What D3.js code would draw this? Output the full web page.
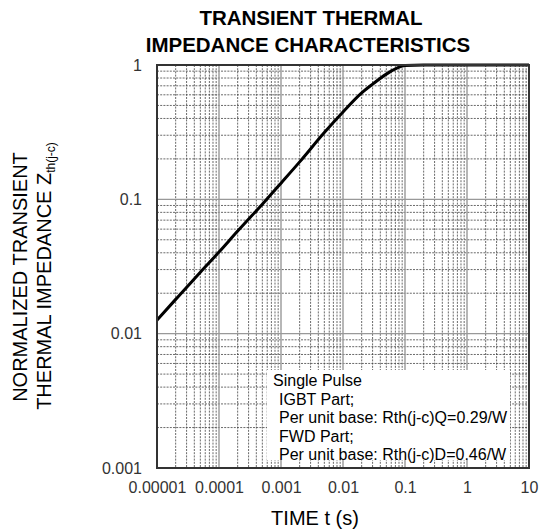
<!DOCTYPE html>
<html>
<head>
<meta charset="utf-8">
<script src="https://cdn.jsdelivr.net/npm/d3@7"></script>
<style>
  body { margin: 0; background: #fff; }
  svg { display: block; font-family: "Liberation Sans", Arial, sans-serif; }
</style>
</head>
<body>
<script>
// canvas and plot box
var w = 542, h = 529;
var plotLeft = 157, plotRight = 529, plotTop = 65, plotBottom = 468;

// curve: time (s) vs normalized Zth(j-c)
var timeS = [1e-5, 2e-5, 5e-5, 1e-4, 2e-4, 5e-4, 1e-3, 2e-3, 5e-3, 1e-2, 2e-2, 3e-2, 5e-2, 7e-2, 0.1, 0.2, 1, 10];
var zth   = [0.0126, 0.018, 0.0287, 0.0405, 0.058, 0.092, 0.132, 0.19, 0.314, 0.447, 0.62, 0.72, 0.855, 0.935, 0.99, 1, 1, 1];

// tick labels
var xTicks = [1e-5, 1e-4, 1e-3, 1e-2, 0.1, 1, 10];
var xTickLabels = ["0.00001", "0.0001", "0.001", "0.01", "0.1", "1", "10"];
var yTicks = [0.001, 0.01, 0.1, 1];
var yTickLabels = ["0.001", "0.01", "0.1", "1"];

// legend text
var legendLines = ["Single Pulse", "IGBT Part;", "Per unit base: Rth(j-c)Q=0.29/W", "FWD Part;", "Per unit base: Rth(j-c)D=0.46/W"];

var x = d3.scaleLog().domain([1e-5, 10]).range([plotLeft, plotRight]);
var y = d3.scaleLog().domain([0.001, 1]).range([plotBottom, plotTop]);

var svg = d3.select("body").append("svg")
    .attr("width", w)
    .attr("height", h);

// minor / major grid values (1..9 per decade)
function decadeLines(lo, hi) {
  var major = [], minor = [];
  for (var e = lo; e <= hi; e++) {
    major.push(Math.pow(10, e));
    if (e < hi) for (var k = 2; k <= 9; k++) minor.push(k * Math.pow(10, e));
  }
  return {major: major, minor: minor};
}
var gx = decadeLines(-5, 1);
var gy = decadeLines(-3, 0);

var grid = svg.append("g");
grid.selectAll("line.vmin").data(gx.minor).enter().append("line")
    .attr("x1", d => x(d)).attr("x2", d => x(d))
    .attr("y1", plotTop).attr("y2", plotBottom)
    .attr("stroke", "#444").attr("stroke-width", 0.8).attr("stroke-dasharray", "2,1.2");
grid.selectAll("line.hmin").data(gy.minor).enter().append("line")
    .attr("y1", d => y(d)).attr("y2", d => y(d))
    .attr("x1", plotLeft).attr("x2", plotRight)
    .attr("stroke", "#444").attr("stroke-width", 0.8).attr("stroke-dasharray", "2,1.2");
grid.selectAll("line.vmaj").data(gx.major).enter().append("line")
    .attr("x1", d => x(d)).attr("x2", d => x(d))
    .attr("y1", plotTop).attr("y2", plotBottom)
    .attr("stroke", "#999").attr("stroke-width", 1.4);
grid.selectAll("line.hmaj").data(gy.major).enter().append("line")
    .attr("y1", d => y(d)).attr("y2", d => y(d))
    .attr("x1", plotLeft).attr("x2", plotRight)
    .attr("stroke", "#999").attr("stroke-width", 1.4);

// legend box (covers grid)
var legend = svg.append("g");
legend.append("rect")
    .attr("x", 267).attr("y", 370).attr("width", 243).attr("height", 90)
    .attr("fill", "#fff");
legend.selectAll("text").data(legendLines).enter().append("text")
    .attr("x", (d, i) => i == 0 ? 273 : 279)
    .attr("y", (d, i) => 386 + i * 18.5)
    .attr("font-size", 16)
    .attr("fill", "#000")
    .text(d => d);

// the curve
var line = d3.line()
    .x((d, i) => x(timeS[i]))
    .y(d => y(d))
    .curve(d3.curveMonotoneX);
svg.append("path")
    .datum(zth)
    .attr("d", line)
    .attr("fill", "none")
    .attr("stroke", "#000")
    .attr("stroke-width", 3);

// frame
svg.append("rect")
    .attr("x", plotLeft).attr("y", plotTop)
    .attr("width", plotRight - plotLeft).attr("height", plotBottom - plotTop)
    .attr("fill", "none").attr("stroke", "#333").attr("stroke-width", 2);

// axes (labels only)
var xAxis = svg.append("g")
    .attr("transform", "translate(0," + plotBottom + ")")
    .call(d3.axisBottom(x).tickValues(xTicks).tickSize(0).tickPadding(14)
      .tickFormat((d, i) => xTickLabels[i]));
var yAxis = svg.append("g")
    .attr("transform", "translate(" + plotLeft + ",0)")
    .call(d3.axisLeft(y).tickValues(yTicks).tickSize(0).tickPadding(15)
      .tickFormat((d, i) => yTickLabels[i]));
[xAxis, yAxis].forEach(function(a) {
  a.select(".domain").remove();
  a.selectAll("text")
    .attr("font-family", "Liberation Sans, Arial, sans-serif")
    .attr("font-size", 16)
    .attr("fill", "#333");
});

// title
svg.append("text")
    .attr("x", 311).attr("y", 25)
    .attr("text-anchor", "middle").attr("font-weight", "bold").attr("font-size", 20.5)
    .text("TRANSIENT THERMAL");
svg.append("text")
    .attr("x", 308).attr("y", 52)
    .attr("text-anchor", "middle").attr("font-weight", "bold").attr("font-size", 20.5)
    .text("IMPEDANCE CHARACTERISTICS");

// x axis title
svg.append("text")
    .attr("x", 315).attr("y", 525)
    .attr("text-anchor", "middle").attr("font-size", 20)
    .text("TIME t (s)");

// y axis title, two rotated lines
svg.append("text")
    .attr("transform", "translate(27,277) rotate(-90)")
    .attr("text-anchor", "middle").attr("font-size", 20)
    .text("NORMALIZED TRANSIENT");
var yt2 = svg.append("text")
    .attr("transform", "translate(51,276) rotate(-90)")
    .attr("text-anchor", "middle").attr("font-size", 20);
yt2.append("tspan").text("THERMAL IMPEDANCE Z");
yt2.append("tspan").attr("font-size", 12).attr("dy", 4).text("th(j-c)");
</script>
</body>
</html>
